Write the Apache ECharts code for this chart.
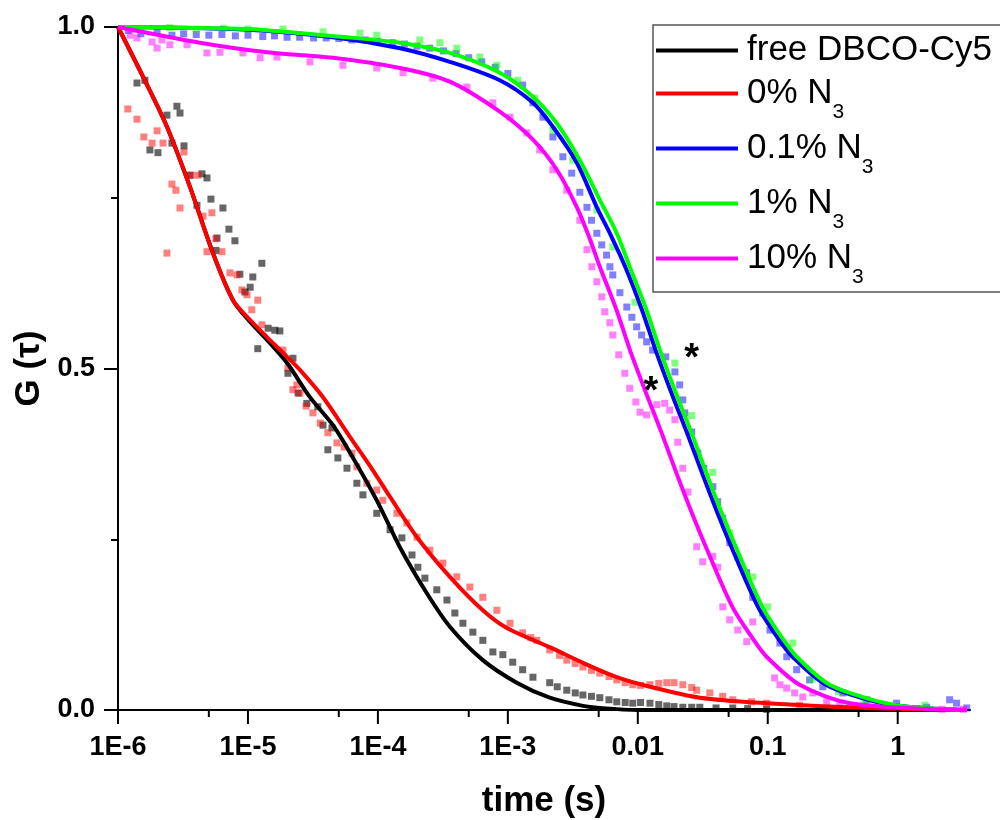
<!DOCTYPE html>
<html><head><meta charset="utf-8">
<script src="https://cdn.jsdelivr.net/npm/echarts@6/dist/echarts.min.js"></script>
<style>html,body{margin:0;padding:0;background:#fff}#c{width:1000px;height:820px}</style>
</head><body><div id="c"></div>
<script>
// ---------- data ----------
const seriesNames = ['free DBCO-Cy5', '0% N3', '0.1% N3', '1% N3', '10% N3'];

const xTickValues = [1e-6, 1e-5, 1e-4, 1e-3, 0.01, 0.1, 1];
const xTickLabels = ['1E-6', '1E-5', '1E-4', '1E-3', '0.01', '0.1', '1'];
const xMinorTicks = [5e-6, 5e-5, 5e-4, 5e-3, 5e-2, 0.5];
const yTickLabels = ['0.0', '0.5', '1.0'];

// free DBCO-Cy5 measured points
const freeT = [1.40e-6,1.61e-6,1.76e-6,2.03e-6,2.38e-6,2.60e-6,2.84e-6,3.00e-6,3.22e-6,3.58e-6,4.05e-6,4.43e-6,4.84e-6,5.19e-6,5.67e-6,5.78e-6,6.42e-6,7.14e-6,7.94e-6,8.67e-6,9.48e-6,1.04e-5,1.09e-5,1.19e-5,1.28e-5,1.43e-5,1.61e-5,1.76e-5,2.03e-5,2.22e-5,2.43e-5,2.84e-5,3.45e-5,3.78e-5,4.12e-5,4.43e-5,4.92e-5,5.78e-5,6.89e-5,7.67e-5,9.80e-5,1.24e-4,1.53e-4,1.83e-4,2.03e-4,2.30e-4,2.84e-4,3.40e-4,3.91e-4,4.51e-4,5.38e-4,6.42e-4,7.67e-4,9.15e-4,1.09e-3,1.30e-3,1.56e-3,2.10e-3,2.40e-3,2.84e-3,3.30e-3,3.78e-3,4.40e-3,5.10e-3,6.00e-3,6.89e-3,8.00e-3,9.15e-3,1.05e-2,1.24e-2,1.45e-2,1.67e-2,1.90e-2,2.22e-2,2.60e-2,3.00e-2,4.00e-2,5.38e-2,7.00e-2,9.80e-2];
const freeG = [0.918,0.922,0.820,0.816,0.871,0.830,0.884,0.874,0.826,0.783,0.739,0.785,0.779,0.748,0.673,0.691,0.735,0.704,0.687,0.638,0.612,0.619,0.634,0.529,0.654,0.559,0.556,0.555,0.493,0.515,0.464,0.449,0.444,0.417,0.381,0.413,0.369,0.354,0.332,0.315,0.288,0.264,0.252,0.227,0.209,0.193,0.176,0.161,0.142,0.127,0.114,0.102,0.085,0.081,0.070,0.059,0.048,0.040,0.034,0.029,0.025,0.022,0.020,0.018,0.015,0.012,0.011,0.010,0.011,0.010,0.008,0.006,0.005,0.004,0.004,0.004,0.003,0.003,0.002,0.001];

// 0% N3 measured points
const zeroT = [1.19e-6,1.40e-6,1.58e-6,1.83e-6,2.00e-6,2.22e-6,2.38e-6,2.60e-6,2.79e-6,3.00e-6,3.22e-6,3.64e-6,4.12e-6,4.51e-6,4.84e-6,5.28e-6,5.67e-6,6.31e-6,7.27e-6,8.23e-6,8.99e-6,9.83e-6,1.07e-5,1.19e-5,1.28e-5,1.86e-5,2.03e-5,2.22e-5,2.38e-5,2.51e-5,2.80e-5,3.16e-5,3.60e-5,4.12e-5,4.84e-5,5.50e-5,6.31e-5,6.89e-5,8.23e-5,9.80e-5,1.09e-4,1.40e-4,1.67e-4,2.00e-4,2.51e-4,3.16e-4,4.05e-4,5.10e-4,6.42e-4,8.23e-4,1.04e-3,1.30e-3,1.50e-3,1.67e-3,2.10e-3,2.50e-3,2.84e-3,3.30e-3,3.78e-3,4.40e-3,5.10e-3,6.00e-3,6.89e-3,8.00e-3,9.15e-3,1.05e-2,1.24e-2,1.45e-2,1.67e-2,1.90e-2,2.22e-2,2.60e-2,2.84e-2,3.58e-2,4.50e-2,5.38e-2,7.50e-2,9.80e-2,1.76e-1,4.27e-1,1.00];
const zeroG = [0.880,0.865,0.839,0.830,0.848,0.830,0.669,0.770,0.761,0.735,0.817,0.783,0.783,0.723,0.671,0.728,0.690,0.671,0.640,0.637,0.615,0.608,0.586,0.600,0.564,0.527,0.501,0.469,0.476,0.464,0.445,0.435,0.420,0.406,0.391,0.385,0.376,0.356,0.332,0.322,0.307,0.288,0.274,0.253,0.234,0.215,0.195,0.180,0.165,0.146,0.127,0.113,0.106,0.102,0.088,0.080,0.073,0.068,0.063,0.058,0.054,0.049,0.044,0.040,0.037,0.036,0.037,0.039,0.040,0.040,0.037,0.033,0.029,0.025,0.020,0.015,0.012,0.010,0.007,0.004,0.003];

// 0.1% N3 measured points
const ptOneT = [1.2e-6,1.5e-6,2.0e-6,2.6e-6,3.2e-6,4.0e-6,5.0e-6,6.3e-6,8.0e-6,1.0e-5,1.3e-5,1.6e-5,2.0e-5,2.5e-5,3.2e-5,4.0e-5,5.0e-5,6.3e-5,8.0e-5,1.0e-4,1.3e-4,1.6e-4,2.0e-4,2.5e-4,3.2e-4,4.0e-4,5.0e-4,6.3e-4,8.0e-4,1.0e-3,1.3e-3,1.56e-3,1.86e-3,2.22e-3,2.65e-3,3.10e-3,3.58e-3,4.06e-3,4.40e-3,4.84e-3,5.28e-3,5.75e-3,6.10e-3,6.42e-3,7.28e-3,8.23e-3,9.00e-3,9.80e-3,1.07e-2,1.17e-2,1.30e-2,1.64e-2,1.93e-2,2.10e-2,2.22e-2,2.30e-2,2.60e-2,2.90e-2,3.22e-2,3.78e-2,4.12e-2,4.51e-2,5.10e-2,5.88e-2,6.89e-2,7.67e-2,9.15e-2,0.104,0.124,0.140,0.167,0.210,0.265,0.378,0.578,0.98,1.67,2.51,2.84,3.40];
const ptOneG = [0.995,0.990,0.992,0.988,0.990,0.989,0.988,0.989,0.987,0.988,0.986,0.987,0.985,0.985,0.984,0.984,0.983,0.981,0.981,0.979,0.977,0.975,0.972,0.969,0.965,0.961,0.955,0.949,0.941,0.932,0.915,0.889,0.868,0.839,0.810,0.786,0.758,0.736,0.717,0.698,0.681,0.666,0.649,0.637,0.611,0.590,0.575,0.561,0.549,0.539,0.527,0.517,0.495,0.476,0.454,0.435,0.407,0.376,0.354,0.327,0.305,0.281,0.245,0.224,0.201,0.165,0.142,0.117,0.098,0.078,0.059,0.044,0.034,0.025,0.015,0.010,0.004,0.015,0.010,0.003];

// 1% N3 measured points
const oneT = [1.5e-6,2.5e-6,4.0e-6,6.5e-6,1.0e-5,1.86e-5,3.78e-5,7.27e-5,9.80e-5,2.10e-4,3.00e-4,4.05e-4,6.09e-4,8.23e-4,1.19e-3,1.61e-3,2.22e-3,3.16e-3,4.84e-3,6.42e-3,9.50e-3,1.93e-2,2.60e-2,3.78e-2,5.10e-2,7.67e-2,0.100,0.156,0.220,0.350,0.550,1.62];
const oneG = [0.998,0.999,0.997,0.998,0.997,0.997,0.993,0.991,0.988,0.981,0.977,0.969,0.956,0.944,0.922,0.896,0.849,0.805,0.732,0.678,0.597,0.508,0.431,0.348,0.259,0.195,0.151,0.098,0.045,0.027,0.015,0.007];

// 10% N3 measured points
const tenT = [1.24e-6,1.40e-6,1.83e-6,2.00e-6,2.18e-6,2.51e-6,3.40e-6,4.84e-6,6.09e-6,9.15e-6,1.24e-5,1.67e-5,3.00e-5,5.38e-5,9.80e-5,1.56e-4,2.65e-4,4.84e-4,7.67e-4,1.04e-3,1.40e-3,1.76e-3,2.22e-3,2.84e-3,3.58e-3,4.06e-3,4.43e-3,4.84e-3,5.28e-3,5.57e-3,6.09e-3,6.42e-3,7.14e-3,7.94e-3,8.67e-3,9.66e-3,1.04e-2,1.17e-2,1.40e-2,1.61e-2,1.76e-2,1.93e-2,2.03e-2,2.22e-2,2.43e-2,2.84e-2,3.16e-2,3.78e-2,4.12e-2,4.51e-2,5.10e-2,5.88e-2,6.89e-2,7.67e-2,0.113,0.124,0.140,0.161,0.186,0.222,0.284,0.358,0.484,0.70,1.00,1.50,2.20,3.20];
const tenG = [0.988,0.984,0.978,0.969,0.981,0.974,0.974,0.962,0.963,0.962,0.955,0.956,0.949,0.944,0.940,0.933,0.925,0.912,0.889,0.868,0.845,0.820,0.791,0.761,0.717,0.674,0.649,0.627,0.605,0.583,0.567,0.549,0.520,0.493,0.471,0.451,0.436,0.432,0.447,0.449,0.439,0.425,0.392,0.354,0.319,0.239,0.217,0.225,0.209,0.151,0.132,0.117,0.100,0.129,0.047,0.037,0.032,0.025,0.019,0.025,0.012,0.010,0.004,0.003,0.002,0.002,0.001,0.001];

// fitted curves
const freeFitT = [1.00e-6,1.56e-6,2.38e-6,3.58e-6,5.38e-6,7.67e-6,1.04e-5,1.40e-5,2.00e-5,3.00e-5,4.51e-5,6.09e-5,9.80e-5,1.48e-4,2.38e-4,3.58e-4,6.42e-4,1.17e-3,2.10e-3,3.78e-3,5.10e-3,1.00e-2,3.40];
const freeFitG = [1.000,0.927,0.854,0.766,0.669,0.600,0.568,0.542,0.508,0.458,0.417,0.377,0.307,0.238,0.171,0.122,0.073,0.040,0.018,0.006,0.003,0.000,0.000];

const zeroFitT = [1.00e-6,1.56e-6,2.38e-6,3.58e-6,5.38e-6,7.67e-6,1.04e-5,1.40e-5,1.86e-5,2.51e-5,3.78e-5,6.09e-5,9.15e-5,1.24e-4,2.00e-4,3.58e-4,6.42e-4,9.83e-4,2.10e-3,3.78e-3,6.89e-3,1.24e-2,3.00e-2,9.80e-2,5.70e-1,3.40];
const zeroFitG = [1.000,0.927,0.854,0.766,0.669,0.600,0.571,0.546,0.523,0.498,0.458,0.400,0.351,0.312,0.253,0.195,0.146,0.120,0.092,0.069,0.048,0.034,0.018,0.010,0.003,0.000];

const ptOneFitT = [1.0e-6,1.0e-5,5.0e-5,1.48e-4,3.58e-4,8.67e-4,1.56e-3,2.22e-3,3.40e-3,4.84e-3,6.20e-3,8.00e-3,1.08e-2,1.37e-2,1.85e-2,2.40e-2,3.15e-2,4.17e-2,5.55e-2,8.47e-2,0.120,0.155,0.280,0.680,1.30,3.40];
const ptOneFitG = [1.000,0.996,0.984,0.969,0.949,0.922,0.889,0.854,0.801,0.736,0.695,0.649,0.585,0.527,0.460,0.405,0.345,0.285,0.228,0.150,0.105,0.078,0.037,0.012,0.004,0.000];

const oneFitT = [1.0e-6,3.0e-6,1.0e-5,5.0e-5,1.48e-4,3.58e-4,8.67e-4,1.56e-3,2.38e-3,3.58e-3,5.10e-3,6.89e-3,8.67e-3,1.17e-2,1.48e-2,2.00e-2,2.60e-2,3.40e-2,4.50e-2,6.00e-2,9.15e-2,0.130,0.167,0.30,0.728,1.30,3.40];
const oneFitG = [1.000,0.999,0.997,0.986,0.977,0.962,0.933,0.898,0.859,0.805,0.747,0.698,0.649,0.585,0.527,0.460,0.405,0.345,0.285,0.228,0.150,0.105,0.078,0.037,0.012,0.004,0.000];

const tenFitT = [1.0e-6,4.27e-6,1.40e-5,4.51e-5,1.48e-4,3.58e-4,8.67e-4,1.56e-3,2.38e-3,3.40e-3,4.27e-3,5.10e-3,6.88e-3,8.70e-3,1.18e-2,1.53e-2,2.00e-2,2.65e-2,3.53e-2,5.38e-2,7.65e-2,9.80e-2,0.176,0.43,3.40];
const tenFitG = [1.000,0.977,0.963,0.955,0.940,0.920,0.876,0.835,0.791,0.736,0.690,0.649,0.585,0.527,0.460,0.405,0.345,0.285,0.228,0.150,0.105,0.078,0.037,0.010,0.000];

// asterisk annotations (time, G)
const starT = [2.60e-2, 1.26e-2];
const starG = [0.513, 0.465];

// ---------- chart ----------
const FONT = 'Arial, "Liberation Sans", Helvetica, sans-serif';
const zip = (t, g) => t.map((v, i) => [v, g[i]]);
const colors = ['#000000', '#ff0000', '#0000ff', '#00ff00', '#ff00ff'];
const pts = [zip(freeT, freeG), zip(zeroT, zeroG), zip(ptOneT, ptOneG), zip(oneT, oneG), zip(tenT, tenG)];
const fits = [zip(freeFitT, freeFitG), zip(zeroFitT, zeroFitG), zip(ptOneFitT, ptOneFitG), zip(oneFitT, oneFitG), zip(tenFitT, tenFitG)];

const series = [];
pts.forEach((d, i) => {
  series.push({
    name: seriesNames[i] + ' data', type: 'scatter', data: d, symbol: 'rect', symbolSize: 7,
    itemStyle: { color: colors[i], opacity: i === 0 ? 0.6 : 0.5 }, z: 2, silent: true
  });
});
fits.forEach((d, i) => {
  series.push({
    name: seriesNames[i], type: 'line', data: d, showSymbol: false, symbol: 'none',
    smooth: 0.3,
    lineStyle: { color: colors[i], width: 4 }, itemStyle: { color: colors[i] }, z: 3 + i * 0.01, silent: true
  });
});
series.push({
  name: 'stars', type: 'scatter', data: zip(starT, starG), symbolSize: 1, itemStyle: { color: 'rgba(0,0,0,0)' },
  label: { show: true, position: 'inside', formatter: '*', fontSize: 38, fontWeight: 'bold', color: '#000', opacity: 1, textBorderWidth: 0, fontFamily: FONT },
  z: 6, silent: true
});
function tickSeries(vals, len) {
  return {
    type: 'custom', coordinateSystem: 'cartesian2d', clip: false, silent: true, z: 6,
    data: vals.map(v => [v, 0]),
    renderItem: (params, api) => {
      const p = api.coord([api.value(0), api.value(1)]);
      return { type: 'line', shape: { x1: p[0], y1: p[1], x2: p[0], y2: p[1] + len }, style: { stroke: '#000', lineWidth: 2 } };
    }
  };
}
series.push(tickSeries(xTickValues, 14));
series.push(tickSeries(xMinorTicks, 7));

const chart = echarts.init(document.getElementById('c'), null, { renderer: 'canvas' });
chart.setOption({
  animation: false,
  backgroundColor: '#fff',
  grid: { left: 118, right: 30, top: 27, bottom: 110, containLabel: false, outerBoundsMode: 'none' },
  xAxis: {
    type: 'log', logBase: 10, min: 1e-6, max: 3.6, splitNumber: 7,
    name: 'time (s)', nameLocation: 'middle', nameGap: 74,
    nameTextStyle: { fontSize: 35, fontWeight: 'bold', color: '#000', fontFamily: FONT },
    axisLine: { show: true, lineStyle: { color: '#000', width: 2 } },
    axisTick: { show: false },
    splitLine: { show: false },
    axisLabel: {
      margin: 24, fontSize: 27, fontWeight: 'bold', color: '#000', fontFamily: FONT, showMaxLabel: false,
      formatter: v => {
        for (let i = 0; i < xTickValues.length; i++) {
          if (Math.abs(Math.log10(v) - Math.log10(xTickValues[i])) < 1e-6) return xTickLabels[i];
        }
        return '';
      }
    }
  },
  yAxis: {
    type: 'value', min: 0, max: 1, interval: 0.5,
    name: 'G (\u03c4)', nameLocation: 'middle', nameGap: 70, nameRotate: 90,
    nameTextStyle: { fontSize: 35, fontWeight: 'bold', color: '#000', fontFamily: FONT },
    axisLine: { show: true, lineStyle: { color: '#000', width: 2 } },
    axisTick: { show: true, length: 14, lineStyle: { color: '#000', width: 2 } },
    minorTick: { show: true, splitNumber: 2, length: 7, lineStyle: { color: '#000', width: 2 } },
    splitLine: { show: false },
    axisLabel: {
      margin: 23, fontSize: 27, fontWeight: 'bold', color: '#000', fontFamily: FONT,
      formatter: v => yTickLabels[Math.round(v * 2)]
    }
  },
  legend: {
    data: seriesNames, orient: 'vertical', left: 653, top: 25,
    padding: [8, 40, 4, 3], itemGap: -4, itemWidth: 82, itemHeight: 4, icon: 'rect',
    backgroundColor: '#fff', borderColor: '#555', borderWidth: 1.5,
    selectedMode: false,
    formatter: name => {
      const m = name.match(/^(.*) N3$/);
      return m ? '{n|' + m[1] + ' N}{s|3}' : '{f|' + name + '}';
    },
    textStyle: {
      fontFamily: FONT, fontSize: 35, color: '#000',
      rich: {
        f: { fontFamily: FONT, fontSize: 35, lineHeight: 36, color: '#000', padding: [0, 0, 0, 4] },
        n: { fontFamily: FONT, fontSize: 35, lineHeight: 58, color: '#000', padding: [0, 0, 0, 4] },
        s: { fontFamily: FONT, fontSize: 21, lineHeight: 58, color: '#000', padding: [38, 0, 0, 0] }
      }
    }
  },
  series: series
});
</script></body></html>
